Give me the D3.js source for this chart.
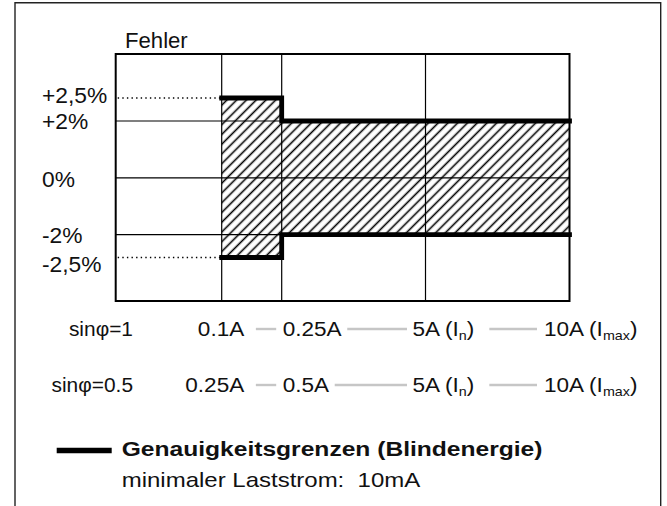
<!DOCTYPE html>
<html>
<head>
<meta charset="utf-8">
<script src="https://cdn.jsdelivr.net/npm/d3@7"></script>
<style>
	body { margin: 0; background: #fff; }
	svg { display: block; }
	text { font-family: "Liberation Sans", Arial, Helvetica, sans-serif; fill: #111; white-space: pre; }
</style>
</head>
<body>
<svg width="667" height="506"></svg>
<script>
// error levels on the y axis and their labels
var yTicks = [2.5, 2, 0, -2, -2.5];
var yTickLabels = ["+2,5%", "+2%", "0%", "-2%", "-2,5%"];

// current stops along the x axis (index 0 = start of the axis)
var xStops = [0, 1, 2, 3, 4];

// limits: from stop 1 to 2 +-2.5 %, from stop 2 to 4 +-2 %
var limitStops = [1, 2, 4];
var limitValues = [2.5, 2, 2];

var rowNames = ["sin\u03c6=1", "sin\u03c6=0.5"];
var rowCurrents = [
	["0.1A", "0.25A", "5A (I_n)", "10A (I_max)"],
	["0.25A", "0.5A", "5A (I_n)", "10A (I_max)"]
];

var legendTitle = "Genauigkeitsgrenzen (Blindenergie)";
var legendNote = "minimaler Laststrom:  10mA";

var svg = d3.select("svg");

var plotTop = 54, plotBottom = 301;

var x = d3.scaleLinear()
	.domain(xStops)
	.range([115.7, 221.7, 281.7, 425.5, 569.5]);

var y = d3.scaleLinear()
	.domain([-2.5, -2, 2, 2.5])
	.range([257.5, 234.7, 121, 98]);

// text that is a bit wider than the font (the scan is stretched)
function wideText(parent, tx, ty, sx, size) {
	return parent.append("text")
		.attr("transform", "translate(" + tx + "," + ty + ") scale(" + sx + ",1)")
		.attr("font-size", size);
}

// outer frame, open at the bottom
svg.append("path")
	.attr("d", "M15,506V2.7H660.7V506")
	.attr("fill", "none")
	.attr("stroke", "#222")
	.attr("stroke-width", 1.4);

// hatch pattern
var defs = svg.append("defs");
defs.append("pattern")
	.attr("id", "hatch")
	.attr("patternUnits", "userSpaceOnUse")
	.attr("width", 6.9)
	.attr("height", 6.9)
	.attr("patternTransform", "rotate(45)")
	.append("line")
	.attr("x1", 3.45).attr("y1", 0)
	.attr("x2", 3.45).attr("y2", 6.9)
	.attr("stroke", "#000")
	.attr("stroke-width", 1.6);

var limits = limitStops.map(function(s, i) { return { s: s, v: limitValues[i] }; });

var area = d3.area()
	.curve(d3.curveStepAfter)
	.x(function(d) { return x(d.s); })
	.y0(function(d) { return y(-d.v); })
	.y1(function(d) { return y(d.v); });

svg.append("path")
	.datum(limits)
	.attr("d", area)
	.attr("fill", "url(#hatch)");

// grid
var grid = svg.append("g").attr("stroke", "#000").attr("stroke-width", 1.2);
grid.selectAll("line.h")
	.data([2, 0, -2])
	.enter().append("line")
	.attr("x1", x(0)).attr("x2", x(4))
	.attr("y1", function(d) { return y(d); })
	.attr("y2", function(d) { return y(d); });
grid.selectAll("line.v")
	.data([1, 2, 3])
	.enter().append("line")
	.attr("x1", function(d) { return x(d); })
	.attr("x2", function(d) { return x(d); })
	.attr("y1", plotTop).attr("y2", plotBottom);

// dotted guides for +-2.5 %
svg.append("g").selectAll("line")
	.data([2.5, -2.5])
	.enter().append("line")
	.attr("x1", x(0) + 2).attr("x2", x(1))
	.attr("y1", function(d) { return y(d); })
	.attr("y2", function(d) { return y(d); })
	.attr("stroke", "#000")
	.attr("stroke-width", 1.4)
	.attr("stroke-dasharray", "1.4,3.2");

// plot box
svg.append("rect")
	.attr("x", x(0)).attr("y", plotTop)
	.attr("width", x(4) - x(0)).attr("height", plotBottom - plotTop)
	.attr("fill", "none")
	.attr("stroke", "#000")
	.attr("stroke-width", 2);

// thick limit lines
var upper = d3.line()
	.curve(d3.curveStepAfter)
	.x(function(d) { return x(d.s); })
	.y(function(d) { return y(d.v); });
var lower = d3.line()
	.curve(d3.curveStepAfter)
	.x(function(d) { return x(d.s); })
	.y(function(d) { return y(-d.v); });

[upper, lower].forEach(function(gen) {
	svg.append("path")
		.datum(limits)
		.attr("d", gen)
		.attr("fill", "none")
		.attr("stroke", "#000")
		.attr("stroke-width", 4.8)
		.attr("stroke-linejoin", "miter")
		.attr("stroke-linecap", "square");
});

// y labels
var labelShift = [-3, 0, 1.5, 0, 6.5];
var yLab = svg.append("g");
yTicks.forEach(function(d, i) {
	wideText(yLab, 42, y(d) + labelShift[i] + 7.8, 1.06, 21.5).text(yTickLabels[i]);
});

wideText(svg, 125, 48.3, 1.03, 21.5).text("Fehler");

// current rows
var rowBase = [336, 392];
var rowNameEnd = 133;
var rowSx = 1.1;

function addCurrent(g, label, xPos, anchor) {
	var parts = label.split("_");
	var t = wideText(g, xPos, 0, rowSx, 20.5).attr("text-anchor", anchor);
	if (parts.length === 1) {
		t.text(label);
	} else {
		var sub = parts[1].replace(")", "");
		t.append("tspan").text(parts[0]);
		t.append("tspan").attr("font-size", 13).attr("dy", 4).text(sub);
		t.append("tspan").attr("dy", -4).text(")");
	}
	var b = t.node().getBBox();
	return { x0: xPos + b.x * rowSx, x1: xPos + (b.x + b.width) * rowSx };
}

rowCurrents.forEach(function(cur, r) {
	var g = svg.append("g").attr("transform", "translate(0," + rowBase[r] + ")");
	wideText(g, rowNameEnd, 0, 1.02, 20.5)
		.attr("text-anchor", "end")
		.text(rowNames[r]);

	var boxes = [
		addCurrent(g, cur[0], x(1) + 22.5, "end"),
		addCurrent(g, cur[1], x(2) + 1, "start"),
		addCurrent(g, cur[2], x(3) - 13, "start"),
		addCurrent(g, cur[3], x(4) - 25.5, "start")
	];
	var gaps = [[11, 6.5], [5, 5.5], [15, 7]];
	for (var i = 0; i < 3; i++) {
		g.append("line")
			.attr("x1", boxes[i].x1 + gaps[i][0])
			.attr("x2", boxes[i + 1].x0 - gaps[i][1])
			.attr("y1", -7).attr("y2", -7)
			.attr("stroke", "#c6c6c6")
			.attr("stroke-width", 2.4);
	}
});

// legend
svg.append("line")
	.attr("x1", 56.7).attr("x2", 111.7)
	.attr("y1", 450.5).attr("y2", 450.5)
	.attr("stroke", "#000")
	.attr("stroke-width", 5.6);

wideText(svg, 121.7, 455.5, 1.23, 20)
	.attr("font-weight", "bold")
	.text(legendTitle);

wideText(svg, 121.7, 487, 1.2, 20)
	.text(legendNote);
</script>
</body>
</html>
